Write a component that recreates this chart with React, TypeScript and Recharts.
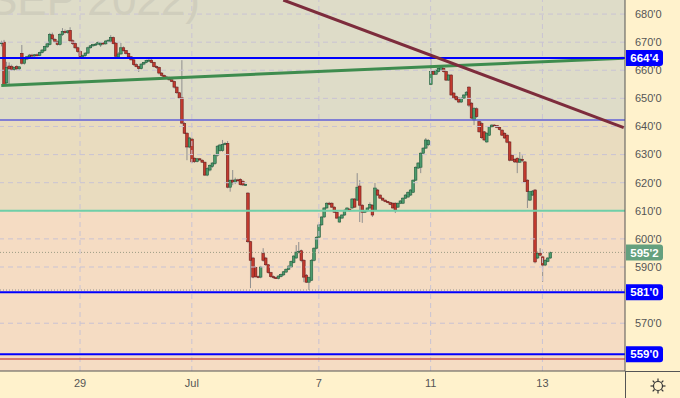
import React from 'react';
import { ComposedChart, Bar, XAxis, YAxis, ReferenceLine, ReferenceArea } from 'recharts';

type OHLC = [number, number, number, number];

// hourly candles: open, high, low, close
const beforeJun29: OHLC[] = [
  [669.5, 670.5, 668.5, 669.8], [670, 670.8, 654.5, 655], [655.5, 663, 654.8, 661], [661.5, 662.8, 654.7, 660.5],
  [661.3, 662, 659.8, 660.3], [660.3, 661.3, 659.8, 661], [661.3, 661.8, 660, 660.5], [660.5, 661.5, 660, 661.2],
  [666, 669, 662, 662.5], [662.5, 664.5, 662, 664.2], [664, 665, 663.6, 664.8], [664.8, 665.8, 664.3, 665.4],
  [665.4, 665.9, 664.8, 665.1], [665.1, 665.8, 664.8, 665.5], [665.5, 666, 665, 665.3], [665.3, 666.6, 665, 666.3],
  [666.3, 667.5, 666, 667.2], [667, 668.7, 666.6, 668.4], [668.3, 669.8, 668, 669.4], [669.2, 673.3, 668.8, 672.8],
  [672.6, 673.4, 670.7, 671.2], [671, 671.5, 669.8, 670.2], [670.2, 670.6, 668.8, 669.2], [669.2, 673.2, 668.8, 672.8],
  [672.8, 675, 672.2, 673.8], [673.8, 674.5, 673, 673.4], [673.4, 674.3, 673, 674], [674.2, 675.3, 670, 670.5],
  [670.5, 671, 669, 669.5], [669.5, 670, 667.5, 668], [668, 668.4, 666.2, 666.7],
];

const jun29to30: OHLC[] = [
  [666.7, 667, 664.5, 664.9], [664.9, 665.6, 664.6, 665.2], [665.2, 666.4, 664.8, 666.1], [666.1, 668.4, 665.9, 668],
  [668, 669, 667.7, 668.7], [668.7, 669.4, 668.3, 669.1], [669.1, 669.7, 668.7, 669.3], [669.3, 670.3, 669, 669.9],
  [669, 670, 668.3, 669.7], [669.7, 670, 669, 669.4], [669.4, 670.7, 669.1, 670.4], [670.4, 671, 670, 670.7],
  [670.2, 672.5, 669.8, 671.7], [671.6, 672, 669.2, 669.5], [669.7, 670, 664, 665], [664.7, 666.5, 664.2, 665.8],
  [665.8, 669.7, 665.5, 668], [668, 668.5, 666.6, 667], [667, 667.2, 665.6, 666], [666, 666.2, 664.5, 664.8],
  [664.8, 665, 663.5, 663.7], [663.7, 664, 661.6, 662], [662, 662.5, 661, 661.3], [661.3, 661.6, 659.4, 660.6],
  [660.6, 662.5, 660.3, 662.2], [662.2, 663, 661.8, 662.8], [662.8, 663.8, 662.5, 663.5], [663.5, 664, 663, 663.6],
  [663.6, 664, 662.5, 662.8], [662.8, 663, 661, 661.3], [661.3, 661.7, 660.5, 661], [661, 661.3, 658.5, 659],
  [659, 659.3, 657.8, 658.2], [658.2, 658.5, 657.3, 657.6], [657.6, 658, 657, 657.3], [657.3, 657.7, 656.3, 656.6],
  [656.6, 657, 655.8, 656], [656, 656.3, 653.5, 654], [654, 654.3, 651.6, 652], [652, 652.3, 649.8, 650.2],
  [650.2, 663.6, 640.8, 641.2], [641, 641.5, 637.3, 637.6], [637.6, 638, 628, 632.7], [632.7, 636.3, 632.3, 635.9],
];

const jul1to6: OHLC[] = [
  [635.5, 636, 627, 627.4], [628.7, 629, 627, 627.5], [627.5, 628.8, 627.2, 628.5], [628.5, 628.8, 627.8, 628.1],
  [628, 628.3, 627, 627.3], [627.3, 627.5, 622.5, 622.7], [622.7, 625.5, 622.3, 625], [624.5, 626.5, 624, 626.2],
  [625.8, 627.3, 625.3, 627], [626.8, 630, 626.3, 629.8], [629.8, 633.3, 629.3, 633], [631.5, 633.8, 631, 633.4],
  [631.5, 635.2, 631, 633.6], [633.6, 634.4, 633.3, 634], [634, 634.8, 618, 618.4], [618.4, 621, 616.8, 620.9],
  [620.9, 624.5, 619.1, 620.2], [620.2, 621.8, 619.5, 621], [621, 621.4, 620.5, 620.8], [621.2, 621.6, 619, 619.3],
  [620.5, 621, 618.8, 619.2], [619.2, 619.6, 618.8, 619.4], [616.3, 616.6, 598.5, 599], [599, 599.3, 582.5, 592.4],
  [593.2, 593.6, 586, 586.4], [589.8, 590.2, 586.2, 586.6], [586.6, 587, 586, 586.4], [586.4, 590.4, 586, 590],
  [594.8, 596.7, 591.9, 592.4], [593.2, 593.6, 590.4, 590.8], [590.8, 591, 587.6, 588], [588, 588.3, 586.2, 586.6],
  [586.6, 587, 585.8, 586.2], [586.2, 586.6, 585.8, 586], [586, 587, 585.6, 586.8], [586.6, 587.7, 586.3, 587.4],
  [587.2, 588.6, 586.9, 588.3], [588.2, 589.5, 587.9, 589.2], [589.2, 590.6, 588.9, 590.3], [590, 592.3, 589.7, 592],
  [591.6, 594.2, 591.3, 593.9], [593.2, 597.8, 593, 595.3], [595.3, 598.9, 594.8, 595.6], [595.8, 596.2, 591.7, 592.3],
  [592.4, 592.8, 584.6, 586.4], [587.1, 587.5, 584.3, 584.6], [584.6, 586.6, 581.8, 586.2], [585.3, 592.8, 585, 592.4],
  [592.4, 597, 592, 596.7], [596.7, 600.9, 596.3, 600.6],
];

const jul7to8: OHLC[] = [
  [600.6, 605.3, 600.3, 605], [605, 608, 604.7, 607.8], [607.8, 611.3, 607.5, 611], [611, 613, 610.7, 612.7],
  [612.7, 613.2, 612, 612.4], [612.7, 613, 611, 611.3], [611.3, 611.6, 609.2, 609.5], [609.5, 609.8, 607.2, 607.4],
  [606, 608, 605.8, 607.8], [607.4, 608.8, 607.2, 608.5], [608.5, 610.5, 608.2, 610.2], [610.2, 611.2, 610, 611],
  [610.6, 610.8, 609.8, 610], [611, 614.5, 610.7, 614.2], [614.2, 614.5, 611, 611.3], [613.8, 623.4, 613.5, 618.4],
  [618.8, 620.9, 606, 612], [612, 612.3, 605.7, 609.5], [609.5, 610.2, 609.2, 610], [610, 611.2, 609.7, 611],
  [611, 613, 610.6, 612.2], [612, 612.3, 607.8, 608.5], [610.2, 619.9, 610, 618.1], [617.4, 617.8, 615.3, 615.6],
  [615.6, 615.8, 614.2, 614.5], [614.5, 614.7, 613.6, 613.8], [613.8, 614, 613, 613.3], [613.3, 613.5, 612.7, 612.9],
  [612.9, 613.2, 612, 612.3], [612.7, 613, 610.8, 611], [612.7, 613, 609.2, 610.2], [611.3, 612.9, 611, 612.7],
  [612.7, 613.8, 612.4, 613.5], [612.7, 614.8, 612.4, 614.5], [614.5, 615.9, 614.2, 615.6], [614.9, 616.9, 614.6, 616.6],
  [615.6, 617.7, 615.3, 617.4], [616.6, 621.2, 616.3, 620.9], [620.9, 625.8, 620.6, 625.5], [625.2, 627.3, 624.9, 627],
  [625.5, 630.8, 623.4, 630.5], [630.5, 632.6, 630.2, 632.3], [632.3, 635.9, 632, 635.2], [633.5, 635.5, 633, 635],
];

const jul11to12: OHLC[] = [
  [655, 667.9, 654.7, 659.5], [659.5, 660, 658.3, 658.6], [658.6, 660.4, 658.3, 660], [659.5, 661.1, 659.2, 660.7],
  [660.1, 661.8, 659.8, 661.3], [660.7, 661, 659.2, 659.5], [659.5, 659.8, 656.2, 656.5], [656.5, 658.6, 656.2, 658.3],
  [658.3, 658.6, 651, 651.2], [651.9, 652.2, 649.8, 650.1], [650.6, 651, 649.2, 649.5], [650.1, 650.4, 648.3, 648.7],
  [648.7, 650.5, 648.4, 650], [650.1, 651.5, 649.8, 651.2], [651.2, 652.6, 651, 652.2], [654, 654.3, 646.9, 647.6],
  [648.3, 648.6, 642.7, 643], [642.3, 646.8, 640.5, 646.5], [646.3, 646.8, 643, 643.5], [641.7, 642, 637.8, 638.1],
  [641, 641.7, 635.6, 636], [638.1, 638.4, 634.8, 635.2], [634.5, 638, 634.2, 637.6], [636.9, 640.2, 636.6, 639.9],
  [639.9, 640.8, 639.6, 640.5], [640.5, 640.8, 640, 640.3], [640.3, 640.5, 639.4, 639.7], [639.7, 639.9, 638.6, 638.9],
  [638.7, 639, 636.6, 636.9], [637.6, 637.9, 635.6, 635.9], [636.9, 637.2, 634, 634.4], [634.5, 634.8, 627.6, 628],
  [629.8, 630.1, 627.7, 628], [628.3, 628.7, 627, 627.4], [628.7, 629, 623.4, 627.3], [627.3, 630.9, 627, 628.4],
  [628.3, 629.7, 627.3, 628], [627.4, 627.7, 620, 620.3], [620.9, 621.2, 611, 616.8], [613.8, 617.1, 613.5, 616.8],
  [615.6, 617.4, 615.3, 617], [617.4, 617.7, 591.3, 591.8], [593.2, 595.5, 592.8, 594.9], [594.9, 596.7, 593.8, 594.2],
];

const jul13: OHLC[] = [
  [593.6, 594, 584.7, 590.7], [590.7, 592.8, 590.3, 592.4], [592, 593.5, 591.7, 593.2], [593.2, 595.5, 592.9, 595.2],
];

const sessions = [beforeJun29, jun29to30, jul1to6, jul7to8, jul11to12, jul13];
const dayLabels = ['29', 'Jul', '7', '11', '13'];
const priceTicks = [570, 590, 600, 610, 620, 630, 640, 650, 660, 670, 680];
const priceDomain: [number, number] = [553, 685];
const SLOTS = 246;

// drawn levels
const topZone = 642.3;
const lowZone = 610;
const resistance = 664.4;
const lastPrice = 595.2;
const lowMark = 581.8;
const support1 = 581;
const support2 = 559;
const redLevel = 557.3;

// trend lines (candle slot, price)
const greenTrend = [{ t: 0, p: 654.6 }, { t: 245, p: 664.3 }];
const maroonTrend = [{ t: 111, p: 685 }, { t: 245, p: 639.6 }];

const candles = sessions.flat();
const dayStarts: number[] = [];
sessions.reduce((acc, s, i) => {
  if (i > 0) dayStarts.push(acc);
  return acc + s.length;
}, 0);

const rows: any[] = candles.map(([o, h, l, c], t) => ({ t, o, h, l, c }));
for (let t = candles.length; t < SLOTS; t++) rows.push({ t });

const FONT = '"Liberation Sans", Arial, sans-serif';

const Candle = (props: any) => {
  const { x, y, width, height, payload } = props;
  if (!payload || payload.h == null) return null;
  const { o, h, l, c } = payload;
  const up = c >= o;
  const k = h - l > 0 ? height / (h - l) : 0;
  const cx = x + width / 2;
  const top = y + (h - Math.max(o, c)) * k;
  const bh = Math.max(1, Math.abs(o - c) * k);
  return (
    <g>
      <line x1={cx} x2={cx} y1={y} y2={y + height} stroke="#8f8f8f" strokeWidth={1} />
      <rect
        x={cx - 1.3}
        y={top}
        width={2.6}
        height={bh}
        fill={up ? '#4d9b6d' : '#c23a2e'}
        stroke={up ? '#1f5b3b' : '#6e1c1c'}
        strokeWidth={0.6}
      />
    </g>
  );
};

const Tag = ({ viewBox, text, bg }: any) => {
  if (!viewBox) return null;
  const x0 = viewBox.x + viewBox.width + 1;
  const y = viewBox.y;
  const w = 37;
  const hh = 8;
  const r = 3;
  const d = `M${x0},${y - hh} H${x0 + w - r} Q${x0 + w},${y - hh} ${x0 + w},${y - hh + r} V${y + hh - r} Q${x0 + w},${y + hh} ${x0 + w - r},${y + hh} H${x0} Z`;
  return (
    <g>
      <path d={d} fill={bg} />
      <text x={x0 + w / 2} y={y} dy="0.36em" textAnchor="middle" fill="#fff" fontSize={11.5} fontWeight={700} fontFamily={FONT}>
        {text}
      </text>
    </g>
  );
};

export default function App() {
  return (
    <div style={{ position: 'relative', width: 680, height: 398, background: '#fff2cc', fontFamily: FONT }}>
      <style>{'body { margin: 0; }'}</style>
      <ComposedChart width={680} height={398} data={rows} margin={{ top: 0, right: 0, bottom: 0, left: 0 }} barCategoryGap={0}>
        <XAxis
          dataKey="t"
          type="category"
          ticks={dayStarts}
          interval={0}
          tickFormatter={(v) => dayLabels[dayStarts.indexOf(v)] ?? ''}
          tickLine={false}
          tickSize={0}
          tickMargin={8}
          height={27}
          axisLine={{ stroke: '#555' }}
          tick={{ fill: '#555', fontSize: 11, fontFamily: FONT }}
        />
        <YAxis
          orientation="right"
          type="number"
          domain={priceDomain}
          allowDataOverflow
          ticks={priceTicks}
          tickFormatter={(v) => `${v}'0`}
          width={55}
          tickLine={false}
          tickSize={0}
          tickMargin={10}
          axisLine={{ stroke: '#555' }}
          tick={{ fill: '#555', fontSize: 11, fontFamily: FONT }}
        />
        <ReferenceArea y1={topZone} y2={priceDomain[1]} fill="#dedcc8" fillOpacity={1} stroke="none" />
        <ReferenceArea y1={lowZone} y2={topZone} fill="#e9dcbf" fillOpacity={1} stroke="none" />
        <ReferenceArea y1={priceDomain[0]} y2={lowZone} fill="#f5dcc3" fillOpacity={1} stroke="none" />
        {priceTicks.map((p) => (
          <ReferenceLine key={`g${p}`} y={p} stroke="#c9c3d3" strokeDasharray="5 4" />
        ))}
        {dayStarts.map((t) => (
          <ReferenceLine key={`v${t}`} x={t} stroke="#c9c3d3" strokeDasharray="5 4" />
        ))}
        <Bar dataKey={(d: any) => (d.h == null ? null : [d.l, d.h])} shape={(p: any) => <Candle {...p} />} isAnimationActive={false} />
        <ReferenceLine y={topZone} stroke="#6060d8" strokeWidth={1.5} />
        <ReferenceLine y={lowZone} stroke="#6fcfa8" strokeWidth={2} />
        <ReferenceLine y={lastPrice} stroke="#9c9c84" strokeDasharray="1 2" label={<Tag text="595'2" bg="#64a07e" />} />
        <ReferenceLine y={lowMark} stroke="#8c8c8c" strokeDasharray="1 2" />
        <ReferenceLine y={redLevel} stroke="#cc5f55" strokeWidth={1.5} />
        <ReferenceLine y={support1} stroke="#0000ff" strokeWidth={2} label={<Tag text="581'0" bg="#0000ff" />} />
        <ReferenceLine y={support2} stroke="#0000ff" strokeWidth={2} label={<Tag text="559'0" bg="#0000ff" />} />
        <ReferenceLine
          segment={greenTrend.map((d) => ({ x: d.t, y: d.p }))}
          stroke="#3e8c4e"
          strokeWidth={3}
          ifOverflow="visible"
        />
        <ReferenceLine y={resistance} stroke="#0000ff" strokeWidth={2} label={<Tag text="664'4" bg="#0000ff" />} />
        <ReferenceLine
          segment={maroonTrend.map((d) => ({ x: d.t, y: d.p }))}
          stroke="#7d2c3c"
          strokeWidth={3}
          ifOverflow="visible"
        />
      </ComposedChart>
      <svg width={680} height={398} style={{ position: 'absolute', left: 0, top: 0, pointerEvents: 'none' }}>
        <text x={-12} y={15} fontSize={44} fill="#d0cebd" fontFamily={FONT}>
          SEP 2022)
        </text>
        <line x1={625} x2={680} y1={371.5} y2={371.5} stroke="#555" />
        <line x1={625.5} x2={625.5} y1={371} y2={398} stroke="#555" />
        <g transform="translate(658,386)" stroke="#333" strokeWidth={1.2} fill="none">
          <circle r={4.5} />
          {[0, 45, 90, 135, 180, 225, 270, 315].map((a) => (
            <line key={a} x1={0} y1={-5} x2={0} y2={-7.5} transform={`rotate(${a})`} />
          ))}
        </g>
      </svg>
    </div>
  );
}
